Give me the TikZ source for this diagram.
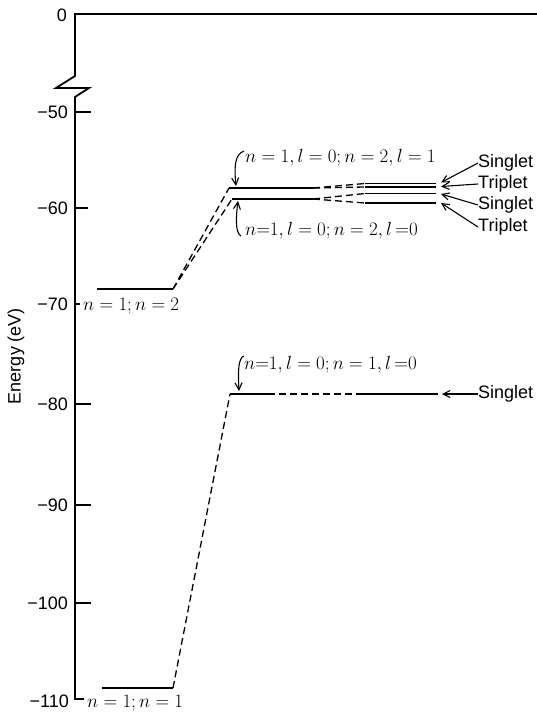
\RequirePackage{fix-cm}
\documentclass[tikz,border=0pt]{standalone}
\usepackage{fontspec}
\setmainfont{Liberation Sans}
\usetikzlibrary{arrows.meta}
\begin{document}
\begin{tikzpicture}[x=1bp,y=-1bp,
  axis/.style={line width=1.8bp, line join=miter},
  lvl/.style={line width=1.6bp},
  dsh/.style={line width=1.3bp, dash pattern=on 7bp off 4bp},
  sans/.style={font=\fontsize{18bp}{20bp}\selectfont, inner sep=0pt},
  mlab/.style={font=\fontsize{19bp}{22bp}\selectfont, inner sep=0pt, anchor=base west},
  ptr/.style={line width=1.1bp, -{Straight Barb[length=7bp,width=7bp]}},
]
\useasboundingbox (0,0) rectangle (537,717);

% axis with break
\coordinate (top) at (75,14);
\coordinate (topR) at (537,14);
\coordinate (b1) at (75,76);
\coordinate (z1) at (56,88);
\coordinate (z2) at (89,88);
\coordinate (b2) at (75,97);
\coordinate (bot) at (75,699);
\coordinate (botR) at (84,699);
\draw[axis] (topR) -- (top) -- (b1) -- (z1) -- (z2) -- (b2) -- (bot) -- (botR);

% ticks and tick labels
\foreach \y/\l/\len/\nm in {112/−50/16/a, 208/−60/13/b, 304/−70/5/c, 404/−80/16/d, 505/−90/16/e, 603/−100/16/f}{
  \draw[axis] (75,\y) -- ++(\len,0);
  \node[sans, anchor=east] (tick\nm) at (68,\y) {\l};
}
\node[sans, anchor=east] (tick0) at (67,15) {0};
\node[sans, anchor=east] (tickg) at (69,701) {−110};

\node[sans, rotate=90] (ylab) at (16,356) {Energy (eV)};

% n=1; n=2 level
\coordinate (L2a) at (97,289);
\coordinate (L2b) at (173,289);
\draw[lvl] (L2a) -- (L2b);
\node[mlab] (lab12) at (83,310) {$n = 1; n = 2$};

% 1s2p and 1s2s levels
\coordinate (Pa) at (229,188);
\coordinate (Pb) at (313,188);
\coordinate (Sa) at (232,199);
\coordinate (Sb) at (313,199);
\draw[dsh] (L2b) -- (Pa);
\draw[dsh] (L2b) -- (Sa);
\draw[lvl] (Pa) -- (Pb);
\draw[lvl] (Sa) -- (Sb);

\coordinate (P1a) at (365,183.5); \coordinate (P1b) at (436,183.5);
\coordinate (P3a) at (365,187);   \coordinate (P3b) at (436,187);
\coordinate (S1a) at (365,193.5); \coordinate (S1b) at (436,193.5);
\coordinate (S3a) at (365,203);   \coordinate (S3b) at (436,203);
\draw[dsh] (Pb) -- (P1a);
\draw[dsh] (Pb) -- (P3a);
\draw[dsh] (Sb) -- (S1a);
\draw[dsh] (Sb) -- (S3a);
\draw[lvl] (P1a) -- (P1b);
\draw[lvl] (P3a) -- (P3b);
\draw[lvl] (S1a) -- (S1b);
\draw[lvl] (S3a) -- (S3b);

\node[sans, anchor=west] (sg1) at (478,163) {Singlet};
\node[sans, anchor=west] (tr1) at (478,184) {Triplet};
\node[sans, anchor=west] (sg2) at (478,205) {Singlet};
\node[sans, anchor=west] (tr2) at (478,227) {Triplet};
\draw[ptr] (sg1.west) -- (441,182.5);
\draw[ptr] (tr1.west) -- (441,186.5);
\draw[ptr] (sg2.west) -- (441,194);
\draw[ptr] (tr2.west) -- (441,203);

\node[mlab] (labP) at (245,162) {$n = 1, l = 0; n = 2, l = 1$};
\node[mlab] (labS) at (245,235) {$n{=}1, l = 0; n = 2, l\,{=}0$};
\draw[ptr] (244,151) .. controls (235,154) and (234,166) .. (236,186);
\draw[ptr] (241,236) .. controls (235,233) and (236,216) .. (238,201);

% n=1; n=1 and ground state
\coordinate (L1a) at (102,688);
\coordinate (L1b) at (173,688);
\draw[lvl] (L1a) -- (L1b);
\node[mlab] (lab11) at (87,707) {$n = 1; n = 1$};

\coordinate (Ga) at (230,394);
\coordinate (Gb) at (268,394);
\coordinate (Gc) at (360,394);
\coordinate (Gd) at (438,394);
\draw[dsh] (L1b) -- (Ga);
\draw[lvl] (Ga) -- (Gb);
\draw[dsh] (Gb) -- (Gc);
\draw[lvl] (Gc) -- (Gd);

\node[sans, anchor=west] (sg0) at (478,394) {Singlet};
\draw[ptr] (sg0.west) -- (442,394);

\node[mlab] (labG) at (244,369) {$n{=}1, l = 0; n = 1, l\,{=}0$};
\draw[ptr] (244,356) .. controls (238,358) and (238,372) .. (239,391);
\end{tikzpicture}
\end{document}
